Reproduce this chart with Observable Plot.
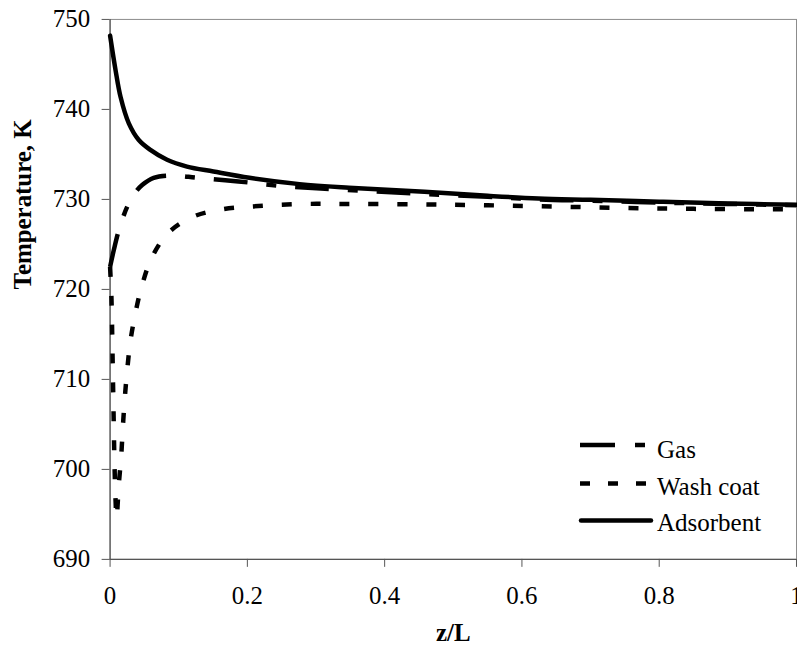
<!DOCTYPE html>
<html>
<head>
<meta charset="utf-8">
<script src="https://cdn.jsdelivr.net/npm/d3@7"></script>
<script src="https://cdn.jsdelivr.net/npm/@observablehq/plot@0.6"></script>
<style>
  html, body { margin: 0; padding: 0; background: #fff; overflow: hidden; }
  #wrap { position: relative; width: 797px; height: 656px; overflow: hidden; }
  #legend { position: absolute; left: 570px; top: 425px; }
</style>
</head>
<body>
<div id="wrap"></div>
<script>
// ---- data ----
const xTicks = [0, 0.2, 0.4, 0.6, 0.8, 1];
const xTickLabels = ["0", "0.2", "0.4", "0.6", "0.8", "1"];
const yTicks = [690, 700, 710, 720, 730, 740, 750];

const seriesNames = ["Gas", "Wash coat", "Adsorbent"];

const zGas = [0, 0.0055, 0.0128, 0.025, 0.035, 0.0467, 0.0635, 0.09, 0.128, 0.187, 0.247, 0.307, 0.38, 0.458, 0.55, 0.624, 0.7, 0.8, 0.9, 1.0];
const tGas = [722.5, 724.4, 726.6, 729.2, 730.6, 731.6, 732.4, 732.65, 732.4, 732.0, 731.5, 731.2, 730.9, 730.6, 730.3, 730.0, 729.85, 729.65, 729.5, 729.35];

const zWash = [0, 0.002, 0.0035, 0.005, 0.0065, 0.008, 0.0094, 0.0128, 0.0162, 0.0186, 0.0215, 0.025, 0.0297, 0.037, 0.0467, 0.0612, 0.085, 0.1216, 0.163, 0.204, 0.247, 0.288, 0.33, 0.45, 0.55, 0.65, 0.75, 0.85, 1.0];
const tWash = [722.5, 719, 713, 706.5, 700.3, 696.5, 694.6, 698.4, 701.5, 704.7, 708.0, 711.1, 714.3, 717.4, 720.5, 723.6, 726.3, 728.1, 728.9, 729.2, 729.4, 729.5, 729.5, 729.45, 729.35, 729.2, 729.05, 728.95, 728.9];

const zAds = [0, 0.008, 0.0152, 0.0273, 0.0418, 0.0587, 0.083, 0.112, 0.1506, 0.203, 0.276, 0.348, 0.458, 0.55, 0.624, 0.7, 0.8, 0.9, 1.0];
const tAds = [748.2, 744.35, 741.4, 738.45, 736.6, 735.5, 734.4, 733.65, 733.1, 732.4, 731.7, 731.3, 730.85, 730.4, 730.1, 729.95, 729.75, 729.55, 729.4];

// ---- build tables ----
const toRows = (zs, ts) => zs.map((z, i) => ({z, t: ts[i]}));
const gas = toRows(zGas, tGas);
const wash = toRows(zWash, tWash);
const ads = toRows(zAds, tAds);

const styles = {
  "Gas": {dash: "34,19,10,19", width: 4.5},
  "Wash coat": {dash: "10,19", width: 4.5},
  "Adsorbent": {dash: null, width: 4.5}
};

const font = "'Liberation Serif', 'Nimbus Roman', 'Nimbus Roman No9 L', FreeSerif, 'DejaVu Serif', 'Noto Serif', Tinos, 'Times New Roman', Times, serif";

const chart = Plot.plot({
  width: 800,
  height: 656,
  marginLeft: 110,
  marginRight: 1,
  marginTop: 19,
  marginBottom: 95,
  style: {fontFamily: font, fontSize: "25px", color: "#000", background: "#fff", overflow: "visible"},
  x: {domain: [0, 1]},
  y: {domain: [690, 750]},
  marks: [
    Plot.frame({stroke: "#8c8c8c", strokeWidth: 1}),
    Plot.axisX({ticks: xTicks, tickFormat: d => xTickLabels[xTicks.indexOf(d)], tickSize: 8, tickPadding: 19, stroke: "#555", label: null, fill: "#000", fontFamily: font}),
    Plot.axisY({ticks: yTicks, tickFormat: d => String(d), tickSize: 8, tickPadding: 12, stroke: "#555", label: null, fill: "#000", fontFamily: font}),
    Plot.ruleX([0], {stroke: "#555", strokeWidth: 1.2}),
    Plot.ruleY([690], {stroke: "#555", strokeWidth: 1.2}),
    Plot.line(wash, {x: "z", y: "t", stroke: "#000", strokeWidth: styles["Wash coat"].width, strokeDasharray: styles["Wash coat"].dash, curve: "catmull-rom", strokeLinecap: "butt", strokeLinejoin: "round"}),
    Plot.line(gas, {x: "z", y: "t", stroke: "#000", strokeWidth: styles["Gas"].width, strokeDasharray: styles["Gas"].dash, curve: "catmull-rom", strokeLinecap: "butt", strokeLinejoin: "round"}),
    Plot.line(ads, {x: "z", y: "t", stroke: "#000", strokeWidth: styles["Adsorbent"].width, curve: "catmull-rom", strokeLinecap: "round", strokeLinejoin: "round"}),
    Plot.text(["z/L"], {frameAnchor: "bottom", dy: 82, fontWeight: "bold", fontSize: 25, fill: "#000", fontFamily: font}),
    Plot.text(["Temperature, K"], {frameAnchor: "left", dx: -87, rotate: -90, fontWeight: "bold", fontSize: 25, fill: "#000", fontFamily: font})
  ]
});

const wrap = document.getElementById("wrap");
wrap.appendChild(chart);

// ---- legend ----
const ns = "http://www.w3.org/2000/svg";
const leg = document.createElementNS(ns, "svg");
leg.setAttribute("id", "legend");
leg.setAttribute("width", "227");
leg.setAttribute("height", "125");
const rowLineY = [20, 58.5, 95.5];
const rowTextY = [32.5, 69.5, 106];
seriesNames.forEach((name, i) => {
  const s = styles[name];
  const ln = document.createElementNS(ns, "line");
  ln.setAttribute("x1", name === "Adsorbent" ? 11 : 10);
  ln.setAttribute("x2", name === "Gas" ? 75 : (name === "Wash coat" ? 78 : 81));
  ln.setAttribute("y1", rowLineY[i]);
  ln.setAttribute("y2", rowLineY[i]);
  ln.setAttribute("stroke", "#000");
  ln.setAttribute("stroke-width", s.width);
  if (s.dash) ln.setAttribute("stroke-dasharray", name === "Gas" ? "35,20,10,20" : "10,18");
  ln.setAttribute("stroke-linecap", s.dash ? "butt" : "round");
  leg.appendChild(ln);
  const tx = document.createElementNS(ns, "text");
  tx.setAttribute("x", 87);
  tx.setAttribute("y", rowTextY[i]);
  tx.style.fontFamily = font;
  tx.setAttribute("font-size", "25");
  tx.setAttribute("fill", "#000");
  tx.textContent = name;
  leg.appendChild(tx);
});
wrap.appendChild(leg);
</script>
</body>
</html>
